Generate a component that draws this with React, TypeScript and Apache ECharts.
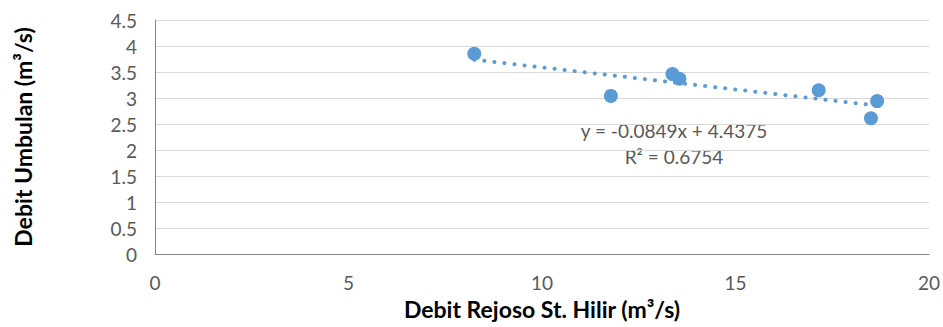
import React, { useEffect, useRef } from "react";
import * as echarts from "echarts";

const xValues = [8.25, 11.78, 13.37, 13.55, 17.15, 18.5, 18.66];
const yValues = [3.85, 3.04, 3.46, 3.37, 3.15, 2.61, 2.94];
const trendSlope = -0.0849;
const trendIntercept = 4.4375;
const equationLines = ["y = -0.0849x + 4.4375", "R² = 0.6754"];
const xAxisTitle = "Debit Rejoso St. Hilir (m³/s)";
const yAxisTitle = "Debit Umbulan (m³/s)";

export default function App() {
  const ref = useRef<HTMLDivElement>(null);
  useEffect(() => {
    if (!ref.current) return;
    const chart = echarts.init(ref.current, undefined, { renderer: "svg" });
    const points = xValues.map((x, i) => [x, yValues[i]]);
    const xMin = Math.min(...xValues);
    const xMax = Math.max(...xValues);
    const trend = [
      [xMin, trendIntercept + trendSlope * xMin],
      [xMax, trendIntercept + trendSlope * xMax],
    ];
    const font = "Lato, 'Open Sans', sans-serif";
    chart.setOption({
      animation: false,
      grid: { left: 155, right: 10, top: 20, bottom: 73 },
      xAxis: {
        type: "value",
        min: 0,
        max: 20,
        interval: 5,
        name: xAxisTitle,
        nameLocation: "middle",
        nameGap: 43,
        nameTextStyle: { fontFamily: font, fontSize: 23, fontWeight: "bold", color: "#000" },
        axisLine: { show: true, lineStyle: { color: "#868686", width: 1 } },
        axisTick: { show: false },
        splitLine: { show: false },
        axisLabel: { fontFamily: font, fontSize: 19, color: "#595959", margin: 19 },
      },
      yAxis: {
        type: "value",
        min: 0,
        max: 4.5,
        interval: 0.5,
        name: yAxisTitle,
        nameLocation: "middle",
        nameGap: 121,
        nameTextStyle: { fontFamily: font, fontSize: 23, fontWeight: "bold", color: "#000" },
        axisLine: { show: true, lineStyle: { color: "#868686", width: 1 } },
        axisTick: { show: false },
        splitLine: { show: true, lineStyle: { color: "#d9d9d9", width: 1 } },
        axisLabel: { fontFamily: font, fontSize: 19, color: "#595959", margin: 18 },
      },
      series: [
        {
          type: "line",
          data: trend,
          symbol: "none",
          lineStyle: { color: "#5b9bd5", width: 4, type: [0.1, 10], cap: "round", opacity: 1 },
          z: 2,
        },
        {
          type: "scatter",
          data: points,
          symbol: "circle",
          symbolSize: 14,
          itemStyle: { color: "#5b9bd5", opacity: 1 },
          z: 3,
        },
      ],
      graphic: [
        {
          type: "text",
          x: 674,
          y: 130,
          style: {
            text: equationLines[0],
            fontFamily: font,
            fontSize: 19,
            fill: "#595959",
            align: "center",
            verticalAlign: "middle",
          },
        },
        {
          type: "text",
          x: 674,
          y: 156,
          style: {
            text: equationLines[1],
            fontFamily: font,
            fontSize: 19,
            fill: "#595959",
            align: "center",
            verticalAlign: "middle",
          },
        },
      ],
    });
    return () => chart.dispose();
  }, []);
  return <div ref={ref} style={{ width: 943, height: 327, position: "absolute", left: 0, top: 0, background: "#fff" }} />;
}
